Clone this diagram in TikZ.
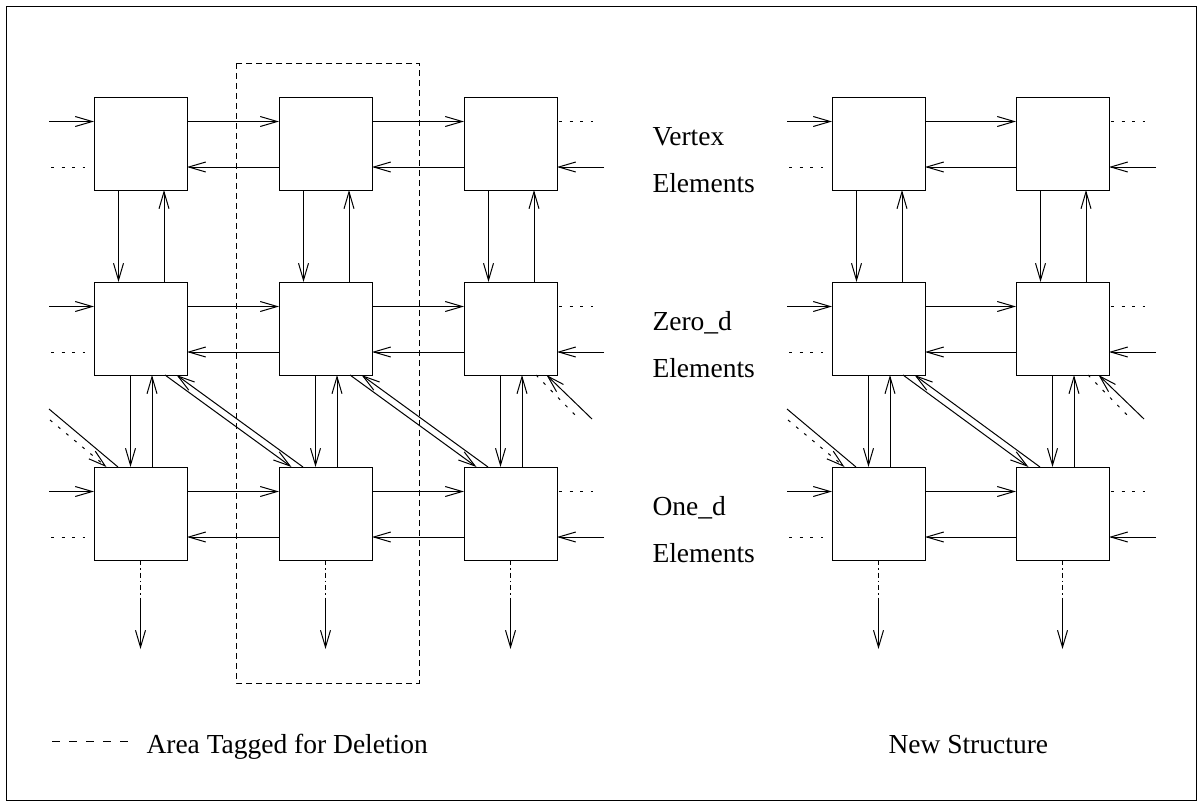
\documentclass[tikz,border=0pt]{standalone}
\usepackage{fontspec}
\setmainfont{Liberation Serif}
\usetikzlibrary{arrows.meta,calc}
\tikzset{
  box/.style={draw, minimum width=93pt, minimum height=93pt, inner sep=0pt, outer sep=0pt},
  arr/.style={-{Straight Barb[length=17pt,width=10pt]}},
  dotline/.style={dash pattern=on 3pt off 7.5pt},
  dashdotline/.style={dash pattern=on 5pt off 3pt on 1.5pt off 3pt},
  tagline/.style={dash pattern=on 6pt off 4pt},
  legline/.style={dash pattern=on 8pt off 9pt},
  lbl/.style={anchor=base west, inner sep=0pt, font=\fontsize{27.5}{33}\selectfont}
}
\begin{document}
\begin{tikzpicture}[x=1pt,y=-1pt,line width=1pt]
\useasboundingbox (0,0) rectangle (1202,806);
\draw (6,6) rectangle (1196,800);
% boxes
\foreach \r/\y in {1/143.5,2/328.5,3/513.5}{
  \foreach \c/\x in {1/140.5,2/325.5,3/510.5,4/878.5,5/1062.5}{
    \node[box] (b-\r-\c) at (\x,\y) {};
  }
}
% horizontal arrows
\foreach \r in {1,2,3}{
  \foreach \c/\d in {1/2,2/3,4/5}{
    \draw[arr] ($(b-\r-\c.north east)+(0,24.5)$) -- ($(b-\r-\d.north west)+(0,24.5)$);
    \draw[arr] ($(b-\r-\d.north west)+(0,70)$) -- ($(b-\r-\c.north east)+(0,70)$);
  }
  \foreach \c in {1,4}{
    \coordinate (inl-\r-\c) at ($(b-\r-\c.north west)+(-45,24.5)$);
    \coordinate (dla-\r-\c) at ($(b-\r-\c.north west)+(-43,70)$);
    \coordinate (dlb-\r-\c) at ($(b-\r-\c.north west)+(-9,70)$);
    \draw[arr] (inl-\r-\c) -- ($(b-\r-\c.north west)+(0,24.5)$);
    \draw[dotline] (dla-\r-\c) -- (dlb-\r-\c);
  }
  \foreach \c in {3,5}{
    \coordinate (inr-\r-\c) at ($(b-\r-\c.north east)+(47,70)$);
    \coordinate (dra-\r-\c) at ($(b-\r-\c.north east)+(2,24.5)$);
    \coordinate (drb-\r-\c) at ($(b-\r-\c.north east)+(36,24.5)$);
    \draw[arr] (inr-\r-\c) -- ($(b-\r-\c.north east)+(0,70)$);
    \draw[dotline] (dra-\r-\c) -- (drb-\r-\c);
  }
}
% vertical arrows
\foreach \c in {1,2,3,4,5}{
  \draw[arr] ($(b-1-\c.south west)+(24.5,0)$) -- ($(b-2-\c.north west)+(24.5,0)$);
  \draw[arr] ($(b-2-\c.north west)+(70,0)$) -- ($(b-1-\c.south west)+(70,0)$);
  \draw[arr] ($(b-2-\c.south west)+(36.5,0)$) -- ($(b-3-\c.north west)+(36.5,0)$);
  \draw[arr] ($(b-3-\c.north west)+(58,0)$) -- ($(b-2-\c.south west)+(58,0)$);
  \coordinate (bm-\c) at ($(b-3-\c.south)+(0,43)$);
  \coordinate (be-\c) at ($(b-3-\c.south)+(0,89)$);
  \draw[dashdotline] (b-3-\c.south) -- (bm-\c);
  \draw[arr] (bm-\c) -- (be-\c);
}
% diagonals
\foreach \c/\d in {1/2,2/3,4/5}{
  \draw[arr] ($(b-2-\c.south west)+(71,0)$) -- ($(b-3-\d.north west)+(12.5,0)$);
  \draw[arr] ($(b-3-\d.north west)+(24,0)$) -- ($(b-2-\c.south west)+(82.5,0)$);
}
\foreach \c in {1,4}{
  \coordinate (dsa-\c) at ($(b-3-\c.north west)+(-45,-58)$);
  \coordinate (dda-\c) at ($(b-3-\c.north west)+(-44,-47)$);
  \draw (dsa-\c) -- ($(b-3-\c.north west)+(24,0)$);
  \draw[arr,dotline] (dda-\c) -- ($(b-3-\c.north west)+(12.5,0)$);
}
\foreach \c in {3,5}{
  \coordinate (rdd-\c) at ($(b-2-\c.south west)+(114,43)$);
  \coordinate (rds-\c) at ($(b-2-\c.south west)+(128,44)$);
  \draw[dotline] ($(b-2-\c.south west)+(72,0)$) -- (rdd-\c);
  \draw[arr] (rds-\c) -- ($(b-2-\c.south west)+(82.5,0)$);
}
% tagged area
\draw[tagline] (236,63) rectangle (419,683);
% labels
\node[lbl] (t1) at (652,145) {Vertex};
\node[lbl] (t2) at (652,192) {Elements};
\node[lbl] (t3) at (652,330) {Zero\_d};
\node[lbl] (t4) at (652,377) {Elements};
\node[lbl] (t5) at (652,515) {One\_d};
\node[lbl] (t6) at (652,562) {Elements};
% legend
\coordinate (lga) at (52,741.7);
\coordinate (lgb) at (136,741.7);
\draw[legline] (lga) -- (lgb);
\node[lbl] (leg) at (146,753) {Area Tagged for Deletion};
\node[lbl] (ns) at (888,753) {New Structure};
\end{tikzpicture}
\end{document}
